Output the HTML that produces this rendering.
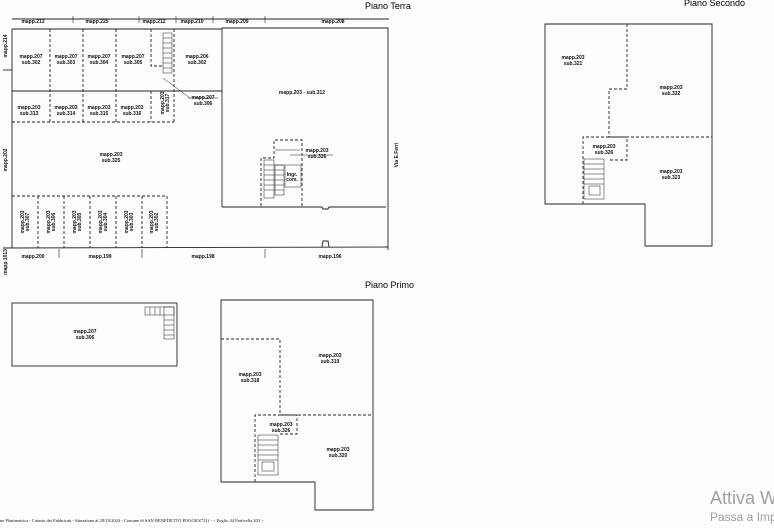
<!DOCTYPE html>
<html><head><meta charset="utf-8"><style>
html,body{margin:0;padding:0;background:#fff;width:774px;height:528px;overflow:hidden}
svg{display:block}
text{font-family:"Liberation Sans",sans-serif;fill:#111}
.s{font-size:5px;font-weight:bold}
.t{font-size:9px;fill:#000}
.d{stroke-dasharray:3,2}
</style></head><body>
<svg width="774" height="528" viewBox="0 0 774 528" xmlns="http://www.w3.org/2000/svg">
<rect width="774" height="528" fill="#fdfdfd"/>
<g stroke="#222" fill="none" stroke-width="0.9">
<line x1="12" y1="19" x2="389" y2="19"/>
<g stroke-width="0.6"><line x1="73" y1="16" x2="73" y2="23"/><line x1="139" y1="16" x2="139" y2="23"/><line x1="176" y1="16" x2="176" y2="23"/><line x1="213" y1="16" x2="213" y2="23"/><line x1="265" y1="16" x2="265" y2="23"/></g>
<polyline points="12,29 222,29"/>
<polyline points="222,207 222,28 388,28 388,250"/>
<polyline points="222,207 322,207 323,209 328,209 329,207 386,207"/>
<line x1="12" y1="29" x2="12" y2="248"/>
<line x1="3" y1="70" x2="12" y2="70"/>
<line x1="3" y1="248" x2="388" y2="247"/>
<polyline points="322,247 323,241 328,241 329,247"/>
<g stroke-width="0.6"><line x1="59" y1="249" x2="59" y2="258"/><line x1="142" y1="249" x2="142" y2="258"/><line x1="265" y1="249" x2="265" y2="258"/></g>
<line x1="12" y1="91" x2="222" y2="91"/>
<g class="d">
<line x1="50" y1="29" x2="50" y2="122"/><line x1="83" y1="29" x2="83" y2="122"/><line x1="116" y1="29" x2="116" y2="122"/>
<polyline points="151,29 151,66 162,66"/>
<line x1="151" y1="91" x2="151" y2="122"/><line x1="174" y1="29" x2="174" y2="122"/>
<line x1="12" y1="122" x2="174" y2="122"/>
<polyline points="12,196 167,196 167,248"/>
<line x1="38" y1="196" x2="38" y2="248"/><line x1="64" y1="196" x2="64" y2="248"/><line x1="90" y1="196" x2="90" y2="248"/><line x1="116" y1="196" x2="116" y2="248"/><line x1="142" y1="196" x2="142" y2="248"/>
<polyline points="261,206 261,158 274,158 274,140 302,140 302,206"/>
</g>
<g stroke-width="0.5">
<rect x="163" y="33" width="9" height="40"/>
<line x1="163" y1="38" x2="172" y2="38"/><line x1="163" y1="43" x2="172" y2="43"/><line x1="163" y1="48" x2="172" y2="48"/><line x1="163" y1="53" x2="172" y2="53"/><line x1="163" y1="58" x2="172" y2="58"/><line x1="163" y1="63" x2="172" y2="63"/><line x1="163" y1="68" x2="172" y2="68"/>
<line x1="163" y1="78" x2="190" y2="98"/><line x1="188" y1="98" x2="218" y2="98"/>
<line x1="290" y1="155" x2="333" y2="155"/>
<rect x="264" y="160" width="10" height="38"/><rect x="275" y="165" width="9" height="30"/>
<line x1="264" y1="165" x2="284" y2="165"/><line x1="264" y1="170" x2="284" y2="170"/><line x1="264" y1="175" x2="284" y2="175"/><line x1="264" y1="180" x2="284" y2="180"/><line x1="264" y1="185" x2="284" y2="185"/><line x1="264" y1="190" x2="284" y2="190"/>
<rect x="285" y="165" width="16" height="22"/>
<line x1="275" y1="150" x2="300" y2="150"/>
</g>
<rect x="12" y="303" width="165" height="63"/>
<g stroke-width="0.5"><rect x="145" y="307" width="29" height="8"/><rect x="164" y="307" width="10" height="32"/>
<line x1="150" y1="307" x2="150" y2="315"/><line x1="155" y1="307" x2="155" y2="315"/><line x1="160" y1="307" x2="160" y2="315"/>
<line x1="164" y1="320" x2="174" y2="320"/><line x1="164" y1="325" x2="174" y2="325"/><line x1="164" y1="330" x2="174" y2="330"/><line x1="164" y1="335" x2="174" y2="335"/></g>
<polygon points="221,300 373,300 373,510 315,510 315,482 221,482"/>
<g class="d"><polyline points="221,339 280,339 280,415"/><polyline points="255,482 255,415 373,415"/><polyline points="280,415 297,415 297,434 280,434"/></g>
<g stroke-width="0.5"><rect x="258" y="435" width="20" height="40"/><rect x="262" y="462" width="12" height="9"/>
<line x1="258" y1="440" x2="278" y2="440"/><line x1="258" y1="445" x2="278" y2="445"/><line x1="258" y1="450" x2="278" y2="450"/><line x1="258" y1="455" x2="278" y2="455"/><line x1="258" y1="460" x2="278" y2="460"/></g>
<polygon points="545,24 712,24 712,246 645,246 645,204 545,204"/>
<g class="d"><polyline points="627,24 627,89 609,89 609,137"/><polyline points="583,204 583,137 712,137"/><polyline points="609,137 627,137 627,160 609,160"/></g>
<g stroke-width="0.5"><rect x="584" y="159" width="20" height="40"/><rect x="589" y="186" width="11" height="9"/>
<line x1="584" y1="164" x2="604" y2="164"/><line x1="584" y1="169" x2="604" y2="169"/><line x1="584" y1="174" x2="604" y2="174"/><line x1="584" y1="179" x2="604" y2="179"/><line x1="584" y1="184" x2="604" y2="184"/></g>
</g>
<g class="s" text-anchor="middle">
<text x="33" y="23">mapp.213</text><text x="97" y="23">mapp.225</text><text x="154" y="23">mapp.212</text><text x="192" y="23">mapp.210</text><text x="237" y="23">mapp.209</text><text x="333" y="23">mapp.208</text>
<text x="31" y="58">mapp.207</text><text x="31" y="64">sub.302</text>
<text x="66" y="58">mapp.207</text><text x="66" y="64">sub.303</text>
<text x="99" y="58">mapp.207</text><text x="99" y="64">sub.304</text>
<text x="133" y="58">mapp.207</text><text x="133" y="64">sub.305</text>
<text x="197" y="58">mapp.206</text><text x="197" y="64">sub.302</text>
<text x="203" y="99">mapp.207</text><text x="203" y="105">sub.306</text>
<text x="29" y="109">mapp.203</text><text x="29" y="115">sub.313</text>
<text x="66" y="109">mapp.203</text><text x="66" y="115">sub.314</text>
<text x="99" y="109">mapp.203</text><text x="99" y="115">sub.315</text>
<text x="132" y="109">mapp.203</text><text x="132" y="115">sub.316</text>
<text x="302" y="94">mapp.203 - sub.312</text>
<text x="111" y="156">mapp.203</text><text x="111" y="162">sub.325</text>
<text x="317" y="152">mapp.203</text><text x="317" y="158">sub.326</text>
<text x="292" y="176">Ingr.</text><text x="292" y="181">com.</text>
<text x="33" y="258">mapp.200</text><text x="100" y="258">mapp.199</text><text x="203" y="258">mapp.198</text><text x="330" y="258">mapp.196</text>
<text x="85" y="333">mapp.207</text><text x="85" y="339">sub.306</text>
<text x="250" y="376">mapp.203</text><text x="250" y="382">sub.318</text>
<text x="330" y="357">mapp.203</text><text x="330" y="363">sub.319</text>
<text x="281" y="426">mapp.203</text><text x="281" y="432">sub.326</text>
<text x="338" y="451">mapp.203</text><text x="338" y="457">sub.320</text>
<text x="573" y="59">mapp.203</text><text x="573" y="65">sub.321</text>
<text x="671" y="89">mapp.203</text><text x="671" y="95">sub.322</text>
<text x="604" y="148">mapp.203</text><text x="604" y="154">sub.326</text>
<text x="671" y="173">mapp.203</text><text x="671" y="179">sub.323</text>
</g>
<g class="s" text-anchor="middle">
<text transform="translate(7,46) rotate(-90)">mapp.214</text>
<text transform="translate(7,160) rotate(-90)">mapp.202</text>
<text transform="translate(7,262) rotate(-90)">mapp.1013</text>
<text transform="translate(164,103) rotate(-90)">mapp.203</text><text transform="translate(169,103) rotate(-90)">sub.317</text>
<text transform="translate(398,155) rotate(-90)">Via E.Ferri</text>
<text transform="translate(24,222) rotate(-90)">mapp.203</text><text transform="translate(29,222) rotate(-90)">sub.307</text>
<text transform="translate(50,222) rotate(-90)">mapp.203</text><text transform="translate(55,222) rotate(-90)">sub.306</text>
<text transform="translate(76,222) rotate(-90)">mapp.203</text><text transform="translate(81,222) rotate(-90)">sub.305</text>
<text transform="translate(102,222) rotate(-90)">mapp.203</text><text transform="translate(107,222) rotate(-90)">sub.304</text>
<text transform="translate(128,222) rotate(-90)">mapp.203</text><text transform="translate(133,222) rotate(-90)">sub.303</text>
<text transform="translate(153,222) rotate(-90)">mapp.203</text><text transform="translate(158,222) rotate(-90)">sub.302</text>
</g>
<text class="t" x="365" y="9">Piano Terra</text>
<text class="t" x="684" y="6">Piano Secondo</text>
<text class="t" x="365" y="288">Piano Primo</text>
<text x="0" y="522" style="font-family:'Liberation Serif',serif;font-size:4.5px">ne Planimetrica - Catasto dei Fabbricati - Situazione al 28/10/2024 - Comune di SAN BENEDETTO POGGIO(721) - &lt; Foglio 44 Particella 203 &gt;</text>
<text x="710" y="504" style="font-size:18px;fill:#a0a0a0">Attiva Windows</text>
<text x="710" y="521" style="font-size:12px;fill:#a0a0a0">Passa a Impostazioni</text>
</svg>
</body></html>
